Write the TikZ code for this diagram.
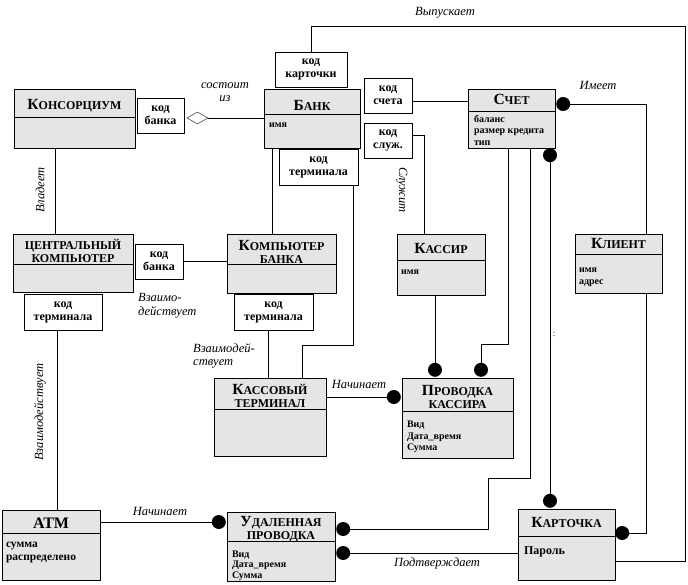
\documentclass[tikz,border=0pt]{standalone}
\usepackage{fontspec}
\setmainfont{Liberation Serif}
\usepackage{tikz}
\usetikzlibrary{shapes.geometric}
\newcommand{\keyfont}{\fontsize{12}{13}\selectfont\bfseries}
\newcommand{\attrfont}{\fontsize{10}{11.5}\selectfont\bfseries}
\newcommand{\rolefont}{\fontsize{12.5}{13.5}\selectfont\itshape}
\newcommand{\titlefont}{\fontsize{12}{13}\selectfont\bfseries}
\newcommand{\cname}[2]{{\fontsize{15.5}{13}\selectfont #1}#2}
\tikzset{
  classbox/.style={draw, fill=black!10, inner sep=0pt},
  keybox/.style={draw, fill=white, align=center, inner sep=0pt, font=\keyfont},
  title/.style={align=center, inner sep=0pt, font=\titlefont},
  attr/.style={anchor=north west, align=left, inner sep=0pt, font=\attrfont},
  role/.style={align=center, inner sep=0pt, font=\rolefont},
  dot/.style={circle, fill=black, inner sep=0pt, minimum size=14pt},
  agg/.style={diamond, draw, fill=white, inner sep=0pt, minimum width=21pt, minimum height=12pt},
}

\begin{document}
\begin{tikzpicture}[x=1pt,y=-1pt]
  \useasboundingbox (0,0) rectangle (688,584);

  %% classes
  \node[classbox, minimum width=121pt, minimum height=59pt] (kons) at (74.5,118.5) {};
  \draw ([yshift=1.5pt]kons.west) -- ([yshift=1.5pt]kons.east);
  \node[title] (konsT) at ([yshift=-16.5pt]kons.north) {\cname{К}{ОНСОРЦИУМ}};

  \node[classbox, minimum width=96pt, minimum height=59pt] (bank) at (312,118.5) {};
  \draw ([yshift=4.5pt]bank.west) -- ([yshift=4.5pt]bank.east);
  \node[title] (bankT) at ([yshift=-16.5pt]bank.north) {\cname{Б}{АНК}};
  \node[attr] (bankA) at ([xshift=5pt,yshift=-34pt]bank.north west) {имя};

  \node[classbox, minimum width=87pt, minimum height=59pt] (schet) at (511.5,118.5) {};
  \draw ([yshift=7.5pt]schet.west) -- ([yshift=7.5pt]schet.east);
  \node[title] (schetT) at ([yshift=-11pt]schet.north) {\cname{С}{ЧЕТ}};
  \node[attr] (schetA) at ([xshift=6pt,yshift=-26pt]schet.north west)
  {баланс\\размер кредита\\тип};

  \node[classbox, minimum width=120pt, minimum height=58pt] (central) at (73,263) {};
  \draw ([yshift=-1pt]central.west) -- ([yshift=-1pt]central.east);
  \node[title] (centralT) at ([yshift=-17pt]central.north) {ЦЕНТРАЛЬНЫЙ\\КОМПЬЮТЕР};

  \node[classbox, minimum width=109pt, minimum height=59pt] (bankcomp) at (281.5,263.5) {};
  \draw ([yshift=-0.5pt]bankcomp.west) -- ([yshift=-0.5pt]bankcomp.east);
  \node[title] (bankcompT) at ([yshift=-18pt]bankcomp.north) {\cname{К}{ОМПЬЮТЕР}\\БАНКА};

  \node[classbox, minimum width=88pt, minimum height=61pt] (kassir) at (441,264.5) {};
  \draw ([yshift=4pt]kassir.west) -- ([yshift=4pt]kassir.east);
  \node[title] (kassirT) at ([yshift=-15pt]kassir.north) {\cname{К}{АССИР}};
  \node[attr] (kassirA) at ([xshift=4pt,yshift=-36pt]kassir.north west) {имя};

  \node[classbox, minimum width=87pt, minimum height=59pt] (client) at (618.5,263.5) {};
  \draw ([yshift=9.5pt]client.west) -- ([yshift=9.5pt]client.east);
  \node[title] (clientT) at ([yshift=-10pt]client.north) {\cname{К}{ЛИЕНТ}};
  \node[attr] (clientA) at ([xshift=4pt,yshift=-34pt]client.north west) {имя\\адрес};

  \node[classbox, minimum width=112pt, minimum height=78pt] (kterm) at (270,417) {};
  \draw ([yshift=8pt]kterm.west) -- ([yshift=8pt]kterm.east);
  \node[title] (ktermT) at ([yshift=-18.5pt]kterm.north) {\cname{К}{АССОВЫЙ}\\ТЕРМИНАЛ};

  \node[classbox, minimum width=111pt, minimum height=80pt] (provk) at (457.5,418) {};
  \draw ([yshift=7pt]provk.west) -- ([yshift=7pt]provk.east);
  \node[title] (provkT) at ([yshift=-19.5pt]provk.north) {\cname{П}{РОВОДКА}\\КАССИРА};
  \node[attr] (provkA) at ([xshift=5pt,yshift=-43pt]provk.north west)
  {Вид\\Дата\_время\\Сумма};

  \node[classbox, minimum width=98pt, minimum height=70pt] (atm) at (51,545.5) {};
  \draw ([yshift=12.5pt]atm.west) -- ([yshift=12.5pt]atm.east);
  \node[title, font=\fontsize{16}{17}\selectfont\bfseries] (atmT) at ([yshift=-13pt]atm.north) {АТМ};
  \node[attr, font=\fontsize{11.5}{13}\selectfont\bfseries] (atmA)
  at ([xshift=4pt,yshift=-32pt]atm.north west) {сумма\\распределено};

  \node[classbox, minimum width=108pt, minimum height=69pt] (udal) at (281,546.5) {};
  \draw ([yshift=5.5pt]udal.west) -- ([yshift=5.5pt]udal.east);
  \node[title] (udalT) at ([yshift=-17pt]udal.north) {\cname{У}{ДАЛЕННАЯ}\\ПРОВОДКА};
  \node[attr, font=\fontsize{10}{10.8}\selectfont\bfseries] (udalA)
  at ([xshift=5pt,yshift=-38.5pt]udal.north west) {Вид\\Дата\_время\\Сумма};

  \node[classbox, minimum width=97pt, minimum height=71pt] (kart) at (566.5,544.5) {};
  \draw ([yshift=8.5pt]kart.west) -- ([yshift=8.5pt]kart.east);
  \node[title] (kartT) at ([yshift=-14pt]kart.north) {\cname{К}{АРТОЧКА}};
  \node[attr, font=\fontsize{12}{13}\selectfont\bfseries] (kartA)
  at ([xshift=6pt,yshift=-38pt]kart.north west) {Пароль};

  %% qualifiers
  \node[keybox, minimum width=47pt, minimum height=35pt] (kbank1) at (160.5,115.5) {код\\банка};
  \node[keybox, minimum width=72pt, minimum height=35pt] (kkart) at (311,69.5) {код\\карточки};
  \node[keybox, minimum width=79pt, minimum height=36pt] (kterm1) at (318.5,167) {код\\терминала};
  \node[keybox, minimum width=48pt, minimum height=35pt] (kschet) at (388,95.5) {код\\счета};
  \node[keybox, minimum width=48pt, minimum height=35pt] (ksluzh) at (388,140.5) {код\\служ.};
  \node[keybox, minimum width=48pt, minimum height=35pt] (kbank2) at (159,261.5) {код\\банка};
  \node[keybox, minimum width=78pt, minimum height=36pt] (kterm2) at (63,312) {код\\терминала};
  \node[keybox, minimum width=79pt, minimum height=36pt] (kterm3) at (273.5,312) {код\\терминала};

  %% end points
  \node[agg] (aggr) at (197.5,118) {};
  \node[dot] (dPk1) at ([xshift=-8pt,yshift=21pt]provk.west) {};
  \node[dot] (dPk2) at ([xshift=-22.5pt,yshift=8pt]provk.north) {};
  \node[dot] (dPk3) at ([xshift=23.5pt,yshift=8pt]provk.north) {};
  \node[dot] (dSch1) at ([xshift=8pt,yshift=14.5pt]schet.east) {};
  \node[dot] (dSch2) at ([xshift=38.5pt,yshift=-7pt]schet.south) {};
  \node[dot] (dKt1) at ([xshift=-16.5pt,yshift=8pt]kart.north) {};
  \node[dot] (dKt2) at ([xshift=7pt,yshift=11.5pt]kart.east) {};
  \node[dot] (dUd1) at ([xshift=-8pt,yshift=24.5pt]udal.west) {};
  \node[dot] (dUd2) at ([xshift=8pt,yshift=17.5pt]udal.east) {};
  \node[dot] (dUd3) at ([xshift=8pt,yshift=-6.5pt]udal.east) {};

  \coordinate (issue) at (685,26);
  \coordinate (termjog) at (302,345);
  \coordinate (jogA) at (481,344);
  \coordinate (jogB) at (488,478);
  \coordinate (kschetR) at ([yshift=-5.5pt]kschet.east);

  %% associations
  \draw (aggr.east) -- (aggr.east -| bank.west);
  \draw (kkart.north) |- (issue) |- ([yshift=-16.5pt]kart.east);
  \draw (kschetR) -- (kschetR -| schet.west);
  \draw ([yshift=5.5pt]ksluzh.east) -| ([xshift=-17pt]kassir.north);
  \draw ([xshift=-19.5pt]kons.south) -- ([xshift=-18pt]central.north);
  \draw ([xshift=-40pt]bank.south) -- ([xshift=-9.5pt]bankcomp.north);
  \draw ([xshift=35pt]kterm1.south) |- (termjog) -- ([xshift=32pt]kterm.north);
  \draw (kbank2.east) -- (kbank2.east -| bankcomp.west);
  \draw ([xshift=-6pt]kterm2.south) -- ([xshift=6pt]atm.north);
  \draw ([xshift=-5.5pt]kterm3.south) -- ([xshift=-2pt]kterm.north);
  \draw (kterm.east |- dPk1) -- (dPk1);
  \draw (dPk2 |- kassir.south) -- (dPk2);
  \draw ([xshift=-3pt]schet.south) |- (jogA) -- (dPk3);
  \draw ([xshift=18.5pt]schet.south) |- (jogB) |- (dUd2);
  \draw (dSch2) -- (dKt1);
  \draw (dSch1) -| ([xshift=28pt]client.north);
  \draw ([xshift=28pt]client.south) |- (dKt2);
  \draw (atm.east |- dUd1) -- (dUd1);
  \draw (dUd3) -- (dUd3 -| kart.west);

  %% roles
  \node[role] (rConsist) at (225,92) {состоит\\из};
  \node[role] (rIssue) at (445,13) {Выпускает};
  \node[role] (rHas) at (598,85) {Имеет};
  \node[role, rotate=-90] (rServe) at (402,190) {Служит};
  \node[role, rotate=90] (rOwn) at (40,190) {Владеет};
  \node[role, anchor=west, align=left] (rInter1) at (138,306) {Взаимо-\\действует};
  \node[role, anchor=west, align=left] (rInter2) at (193,356) {Взаимодей-\\ствует};
  \node[role, rotate=90] (rInter3) at (40,412) {Взаимодействует};
  \node[role] (rStart1) at (359,384) {Начинает};
  \node[role] (rStart2) at (160,511) {Начинает};
  \node[role] (rConfirm) at (437,563) {Подтверждает};
  \node[role, font=\small] (rColon) at (554,334) {:};

\end{tikzpicture}
\end{document}
